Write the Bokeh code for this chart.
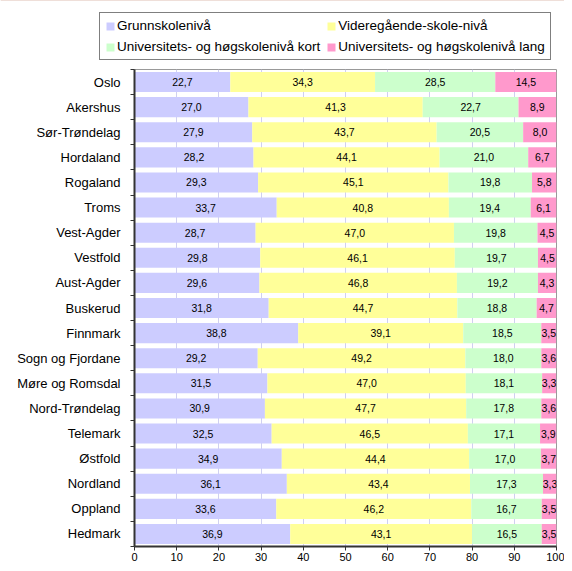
from bokeh.plotting import figure
from bokeh.models import (ColumnDataSource, Range1d, FixedTicker, Legend, LegendItem,
                          LabelSet, LinearAxis)
from bokeh.layouts import column, row
from bokeh.core.properties import value
from bokeh.embed import file_html
from bokeh.resources import INLINE

counties = ["Oslo", "Akershus", "Sør-Trøndelag", "Hordaland", "Rogaland", "Troms",
            "Vest-Agder", "Vestfold", "Aust-Agder", "Buskerud", "Finnmark",
            "Sogn og Fjordane", "Møre og Romsdal", "Nord-Trøndelag", "Telemark",
            "Østfold", "Nordland", "Oppland", "Hedmark"]
grunnskole = [22.7, 27.0, 27.9, 28.2, 29.3, 33.7, 28.7, 29.8, 29.6, 31.8, 38.8, 29.2,
              31.5, 30.9, 32.5, 34.9, 36.1, 33.6, 36.9]
videregaende = [34.3, 41.3, 43.7, 44.1, 45.1, 40.8, 47.0, 46.1, 46.8, 44.7, 39.1, 49.2,
                47.0, 47.7, 46.5, 44.4, 43.4, 46.2, 43.1]
uni_kort = [28.5, 22.7, 20.5, 21.0, 19.8, 19.4, 19.8, 19.7, 19.2, 18.8, 18.5, 18.0,
            18.1, 17.8, 17.1, 17.0, 17.3, 16.7, 16.5]
uni_lang = [14.5, 8.9, 8.0, 6.7, 5.8, 6.1, 4.5, 4.5, 4.3, 4.7, 3.5, 3.6,
            3.3, 3.6, 3.9, 3.7, 3.3, 3.5, 3.5]
series_names = ["Grunnskolenivå", "Videregående-skole-nivå",
                "Universitets- og høgskolenivå kort", "Universitets- og høgskolenivå lang"]
series_colors = ["#CCCCFF", "#FFFF99", "#CCFFCC", "#FF99CC"]
x_ticks = [0, 10, 20, 30, 40, 50, 60, 70, 80, 90, 100]

FONT = "Liberation Sans"
n = len(counties)
ypos = [n - i - 0.5 for i in range(n)]

W = 564
LEG_H = 68
H = 563 - LEG_H
BL, BR, BT, BB = 134, 8, 1, 17

# ---- legend strip ----
pl = figure(width=W, height=LEG_H, output_backend="svg", toolbar_location=None,
            x_range=Range1d(0, 1), y_range=Range1d(0, 1),
            min_border_left=0, min_border_right=0, min_border_top=0, min_border_bottom=0,
            x_axis_location=None, y_axis_location=None)
pl.grid.visible = False
pl.outline_line_color = None
pl.border_fill_color = "white"
leg_renderers = []
for col in series_colors:
    # swatch-only renderer: its single bar lies outside the visible range
    leg_renderers.append(pl.hbar(y=[5], left=[0], right=[1], height=0.8,
                                 fill_color=col, line_color=None))
order = [0, 2, 1, 3]  # legend is filled column by column
items = [LegendItem(label=series_names[i], renderers=[leg_renderers[i]]) for i in order]
legend = Legend(items=items, ncols=2, location=(99, 8),
                label_text_font=FONT, label_text_font_size="13.5px",
                label_text_color="black", glyph_width=10, glyph_height=10,
                label_standoff=2, spacing=6, padding=5, margin=0,
                label_height=14, border_line_color="black", border_line_width=1,
                background_fill_color="white", background_fill_alpha=1.0)
pl.add_layout(legend, "center")

# ---- main chart ----
p = figure(width=W, height=H, output_backend="svg", toolbar_location=None,
           x_range=Range1d(0, 100), y_range=Range1d(0, n),
           min_border_left=BL, min_border_right=BR, min_border_top=BT,
           min_border_bottom=BB, y_axis_location=None, x_axis_location=None)
p.outline_line_color = "#999999"
p.outline_line_width = 1
p.background_fill_color = "white"
p.border_fill_color = "white"
p.ygrid.visible = False
p.xgrid.ticker = FixedTicker(ticks=x_ticks)
p.xgrid.grid_line_color = "#D0D0F0"
p.xgrid.grid_line_width = 1

series = [grunnskole, videregaende, uni_kort, uni_lang]
left = [0.0] * n
for vals, name, col in zip(series, series_names, series_colors):
    right = [l + v for l, v in zip(left, vals)]
    mid = [(l + r) / 2 for l, r in zip(left, right)]
    src = ColumnDataSource(dict(y=ypos, left=left, right=right, mid=mid,
                                lab=[f"{v:.1f}".replace(".", ",") for v in vals]))
    p.hbar(y="y", left="left", right="right", height=0.8, source=src,
           fill_color=col, line_color=None)
    p.add_layout(LabelSet(x="mid", y="y", text="lab", source=src,
                          text_align="center", text_baseline="middle",
                          text_font=value(FONT), text_font_size=value("10.5px"),
                          text_color="black"))
    left = right

# y axis: labels at centers, tick marks at category boundaries
yaxis = LinearAxis(ticker=FixedTicker(ticks=ypos, minor_ticks=list(range(n + 1))),
                   major_label_overrides={y: c for y, c in zip(ypos, counties)})
yaxis.major_tick_line_color = None
yaxis.major_tick_out = 0
yaxis.major_tick_in = 0
yaxis.minor_tick_line_color = "#333333"
yaxis.minor_tick_out = 4
yaxis.minor_tick_in = 0
yaxis.axis_line_color = "#333333"
yaxis.axis_line_width = 2
yaxis.major_label_text_font = FONT
yaxis.major_label_text_font_size = "13px"
yaxis.major_label_text_color = "black"
yaxis.major_label_standoff = 10
p.add_layout(yaxis, "left")

xaxis = LinearAxis(ticker=FixedTicker(ticks=x_ticks))
xaxis.axis_line_color = "#333333"
xaxis.axis_line_width = 2
xaxis.major_tick_line_color = "#333333"
xaxis.major_tick_out = 4
xaxis.major_tick_in = 0
xaxis.minor_tick_line_color = None
xaxis.major_label_text_font = FONT
xaxis.major_label_text_font_size = "11px"
xaxis.major_label_text_color = "black"
xaxis.major_label_standoff = 2
p.add_layout(xaxis, "below")

layout = column(row(pl), row(p), spacing=0)
open("out.html", "w").write(file_html(layout, INLINE))
